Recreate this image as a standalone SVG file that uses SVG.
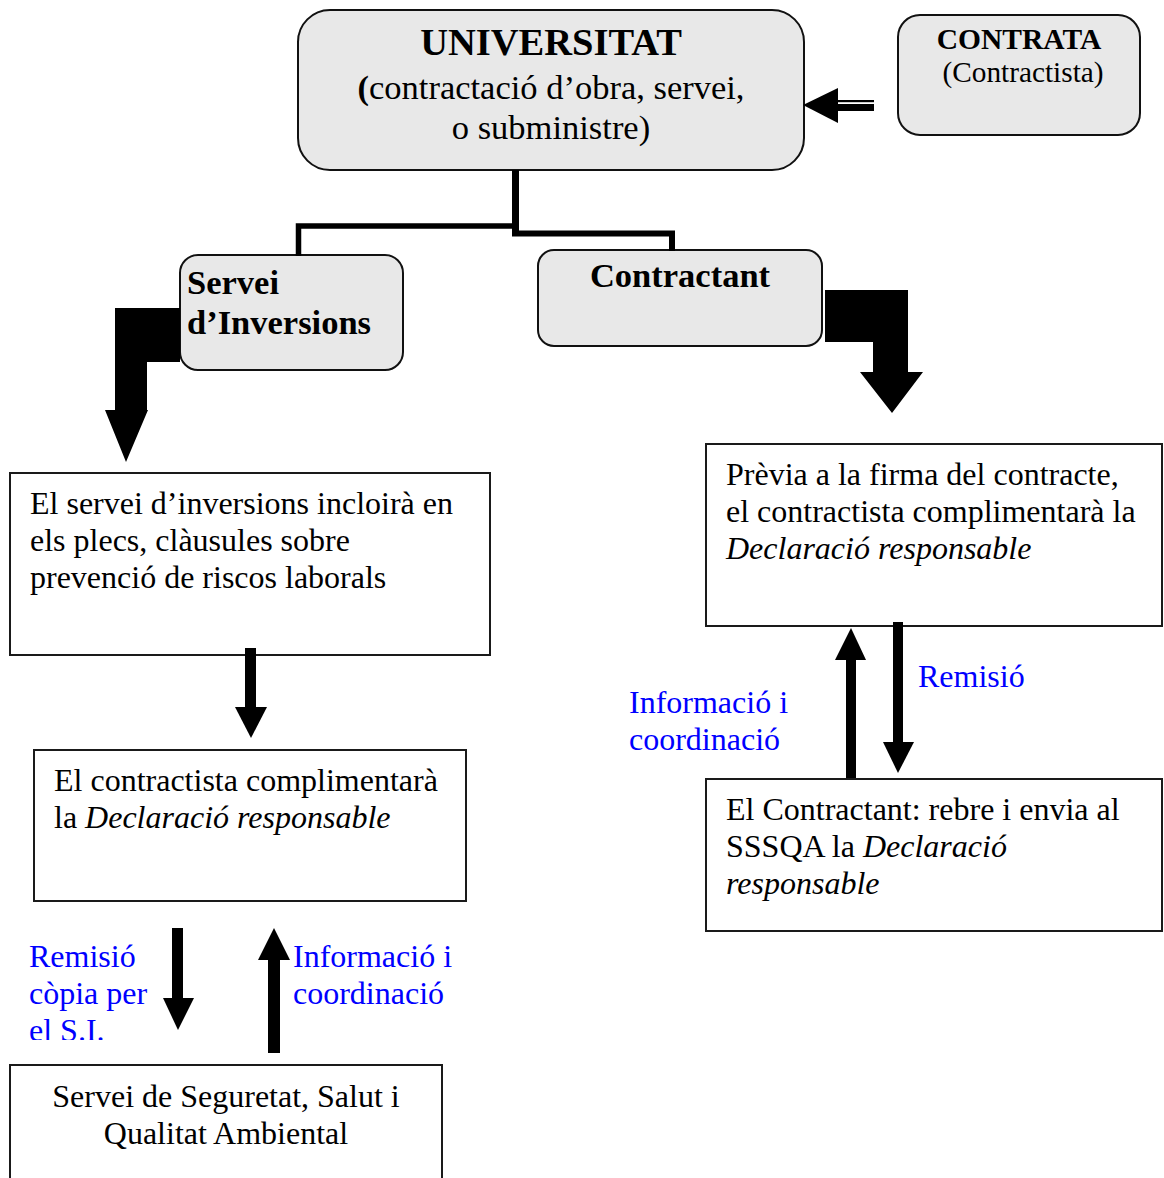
<svg xmlns="http://www.w3.org/2000/svg" width="1164" height="1178" viewBox="0 0 1164 1178">
<style>
.rb{fill:#e8e8e8;stroke:#111;stroke-width:2}
.bx{fill:#fff;stroke:#1a1a1a;stroke-width:2}
.t{font-family:"Liberation Serif","Times New Roman",serif;fill:#000;font-size:32px}
.h{font-family:"Liberation Serif","Times New Roman",serif;fill:#000;font-size:34.5px}
.b{font-weight:bold}
.blue{font-family:"Liberation Serif","Times New Roman",serif;fill:#0000ff;font-size:32px}
.ln{fill:none;stroke:#000;stroke-linejoin:miter;stroke-linecap:butt}
.ar{fill:#000}
</style>
<defs>
<clipPath id="clipSI"><rect x="0" y="900" width="260" height="140"/></clipPath>
</defs>
<rect width="1164" height="1178" fill="#fff"/>

<g id="universitat">
<rect class="rb" x="298" y="10" width="506" height="160" rx="32"/>
<text class="h b" x="551" y="55" text-anchor="middle" style="font-size:38.5px">UNIVERSITAT</text>
<text class="h" x="551" y="99" text-anchor="middle"><tspan font-weight="bold">(</tspan>contractació d’obra, servei,</text>
<text class="h" x="551" y="139" text-anchor="middle">o subministre)</text>
</g>

<g id="contrata">
<rect class="rb" x="898" y="15" width="242" height="120" rx="22"/>
<text class="h b" x="1019" y="49" text-anchor="middle" style="font-size:29.5px">CONTRATA</text>
<text class="h" x="1023" y="82" text-anchor="middle" style="font-size:29.3px">(Contractista)</text>
</g>

<g id="servei-inversions">
<rect class="rb" x="180" y="255" width="223" height="115" rx="18"/>
<text class="h b" x="187" y="294">Servei</text>
<text class="h b" x="187" y="334">d’Inversions</text>
</g>

<g id="contractant">
<rect class="rb" x="538" y="250" width="284" height="96" rx="16"/>
<text class="h b" x="680" y="287" text-anchor="middle">Contractant</text>
</g>

<g id="plecs">
<rect class="bx" x="10" y="473" width="480" height="182"/>
<text class="t" x="30" y="514">El servei d’inversions incloirà en</text>
<text class="t" x="30" y="551">els plecs, clàusules sobre</text>
<text class="t" x="30" y="588">prevenció de riscos laborals</text>
</g>

<g id="declaracio-left">
<rect class="bx" x="34" y="750" width="432" height="151"/>
<text class="t" x="54" y="791">El contractista complimentarà</text>
<text class="t" x="54" y="828">la <tspan font-style="italic">Declaració responsable</tspan></text>
</g>

<g id="sssqa">
<rect class="bx" x="10" y="1065" width="432" height="130"/>
<text class="t" x="226" y="1107" text-anchor="middle">Servei de Seguretat, Salut i</text>
<text class="t" x="226" y="1144" text-anchor="middle">Qualitat Ambiental</text>
</g>

<g id="previa">
<rect class="bx" x="706" y="444" width="456" height="182"/>
<text class="t" x="726" y="485">Prèvia a la firma del contracte,</text>
<text class="t" x="726" y="522">el contractista complimentarà la</text>
<text class="t" x="726" y="559" font-style="italic">Declaració responsable</text>
</g>

<g id="contractant-envia">
<rect class="bx" x="706" y="779" width="456" height="152"/>
<text class="t" x="726" y="820">El Contractant: rebre i envia al</text>
<text class="t" x="726" y="857">SSSQA la <tspan font-style="italic">Declaració</tspan></text>
<text class="t" x="726" y="894" font-style="italic">responsable</text>
</g>

<g id="labels">
<g clip-path="url(#clipSI)">
<text class="blue" x="29" y="967">Remisió</text>
<text class="blue" x="29" y="1004">còpia per</text>
<text class="blue" x="29" y="1041">el S.I.</text>
</g>
<text class="blue" x="293" y="967">Informació i</text>
<text class="blue" x="293" y="1004">coordinació</text>
<text class="blue" x="918" y="687">Remisió</text>
<text class="blue" x="629" y="713">Informació i</text>
<text class="blue" x="629" y="750">coordinació</text>
</g>

<g id="connectors">
<path class="ln" d="M515.5 170 V233" stroke-width="7"/>
<path class="ln" d="M515 226 H298.5 V256" stroke-width="5.5"/>
<path class="ln" d="M512 233.5 H672 V251" stroke-width="6"/>
<polygon class="ar" points="803,105 838,88 838,123"/>
<rect class="ar" x="836" y="100" width="38" height="2.2"/>
<rect class="ar" x="836" y="104" width="38" height="7"/>
<polygon class="ar" points="180,308 115,308 115,410 105,410 126,462 148,410 147,410 147,362 180,362"/>
<polygon class="ar" points="825,290 908,290 908,372 923,372 892,413 860,372 873,372 873,342 825,342"/>
<rect class="ar" x="245" y="648" width="11" height="60"/>
<polygon class="ar" points="235,707 267,707 251,738"/>
<rect class="ar" x="172" y="928" width="11" height="71"/>
<polygon class="ar" points="163,998 194,998 178,1030"/>
<polygon class="ar" points="274,928 258,960 290,960"/>
<rect class="ar" x="268" y="959" width="12" height="94"/>
<polygon class="ar" points="851,628 835,660 866,660"/>
<rect class="ar" x="846" y="659" width="10" height="119"/>
<rect class="ar" x="893" y="622" width="10" height="121"/>
<polygon class="ar" points="883,742 914,742 898,773"/>
</g>
</svg>
